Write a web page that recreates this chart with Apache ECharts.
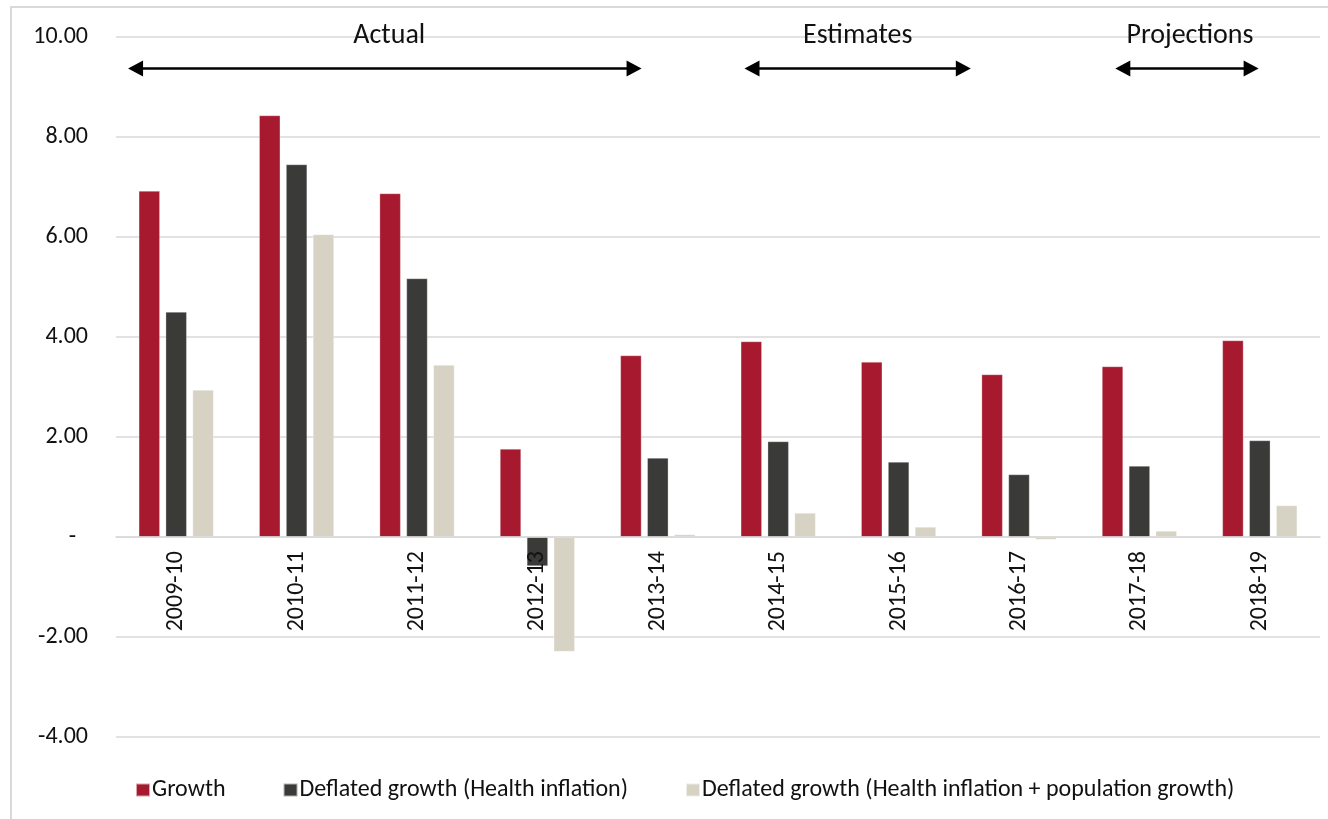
<!DOCTYPE html>
<html>
<head>
<meta charset="utf-8">
<script src="https://cdn.jsdelivr.net/npm/echarts@6/dist/echarts.min.js"></script>
<style>
html,body{margin:0;padding:0;background:#fff;}
#chart{width:1328px;height:819px;}
</style>
</head>
<body>
<div id="chart"></div>
<script>
const categories = ['2009-10','2010-11','2011-12','2012-13','2013-14','2014-15','2015-16','2016-17','2017-18','2018-19'];
const growth = [6.92, 8.43, 6.87, 1.76, 3.63, 3.91, 3.50, 3.25, 3.41, 3.93];
const deflatedHealth = [4.50, 7.45, 5.17, -0.58, 1.58, 1.91, 1.50, 1.25, 1.42, 1.93];
const deflatedHealthPop = [2.94, 6.05, 3.44, -2.29, 0.05, 0.48, 0.20, -0.05, 0.12, 0.63];
const seriesNames = ['Growth', 'Deflated growth (Health inflation)', 'Deflated growth (Health inflation + population growth)'];
const yMin = -4, yMax = 10, yStep = 2;
// period annotations, positions in category units (0 = left edge of first category)
const periodNames = ['Actual', 'Estimates', 'Projections'];
const periodStart = [0.10, 5.22, 8.30];
const periodEnd = [4.365, 7.10, 9.49];
const periodLabelX = [2.27, 6.16, 8.92];
const arrowY = 9.37;
const labelY = 10.03;

const FONT = 'Carlito, "Open Sans", sans-serif';
const colors = ['#A6192E', '#3A3B38', '#D6D3C4'];

const GRID_TOP = 37, GRID_BOTTOM = 82, H = 819;
const plotH = H - GRID_TOP - GRID_BOTTOM;
// shift the category axis up to the zero line
const zeroOffset = -plotH * (0 - yMin) / (yMax - yMin);

const chart = echarts.init(document.getElementById('chart'));

const barSeries = [growth, deflatedHealth, deflatedHealthPop].map((d, i) => ({
  name: seriesNames[i],
  type: 'bar',
  data: d,
  barWidth: 21,
  barGap: '28%',
  itemStyle: { color: colors[i], borderColor: 'rgba(255,255,255,0.6)', borderWidth: 0.5 }
}));

const option = {
  animation: false,
  backgroundColor: '#fff',
  textStyle: { fontFamily: FONT },
  grid: { left: 116, right: 8, top: GRID_TOP, bottom: GRID_BOTTOM, containLabel: false, outerBoundsMode: 'none' },
  legend: {
    left: 130,
    top: 773,
    itemWidth: 14,
    itemHeight: 13,
    itemGap: 57,
    icon: 'rect',
    textStyle: { fontSize: 24, color: '#111', fontFamily: FONT, padding: [0, 0, 0, -3] },
    data: seriesNames
  },
  xAxis: {
    type: 'category',
    data: categories,
    position: 'bottom',
    offset: zeroOffset,
    z: 5,
    axisLine: { onZero: false, lineStyle: { color: '#d9d9d9', width: 1.5 } },
    axisTick: { show: false },
    axisLabel: { rotate: 90, margin: 14, fontSize: 24, color: '#111', fontFamily: FONT, interval: 0 },
    splitLine: { show: false }
  },
  yAxis: {
    type: 'value',
    min: yMin,
    max: yMax,
    interval: yStep,
    axisLine: { show: false },
    axisTick: { show: false },
    splitLine: { lineStyle: { color: '#d9d9d9', width: 1.5 } },
    axisLabel: {
      margin: 28,
      fontSize: 24,
      color: '#111',
      fontFamily: FONT,
      formatter: v => (v === 0 ? '{z|-}' : v.toFixed(2)),
      rich: { z: { fontSize: 24, color: '#111', fontFamily: FONT, padding: [0, 12, 0, 0] } }
    }
  },
  series: barSeries
};
chart.setOption(option);

// annotations positioned through the chart's own scales
function xAt(u) {
  const c0 = chart.convertToPixel({ xAxisIndex: 0 }, 0);
  const c1 = chart.convertToPixel({ xAxisIndex: 0 }, 1);
  const w = c1 - c0;
  return c0 - w / 2 + u * w;
}
function yAt(v) { return chart.convertToPixel({ yAxisIndex: 0 }, v); }

const graphics = [{
  type: 'rect',
  shape: { x: 11, y: 7, width: 1340, height: 840 },
  style: { fill: null, stroke: '#d9d9d9', lineWidth: 2 },
  silent: true,
  z: -10
}];
const head = 15, half = 8;
periodNames.forEach((n, i) => {
  const x1 = xAt(periodStart[i]), x2 = xAt(periodEnd[i]), y = yAt(arrowY);
  graphics.push({
    type: 'line', silent: true, z: 50,
    shape: { x1: x1 + head - 2, y1: y, x2: x2 - head + 2, y2: y },
    style: { stroke: '#000', lineWidth: 2.5 }
  });
  graphics.push({
    type: 'polygon', silent: true, z: 50,
    shape: { points: [[x1, y], [x1 + head, y - half], [x1 + head, y + half]] },
    style: { fill: '#000' }
  });
  graphics.push({
    type: 'polygon', silent: true, z: 50,
    shape: { points: [[x2, y], [x2 - head, y - half], [x2 - head, y + half]] },
    style: { fill: '#000' }
  });
  graphics.push({
    type: 'text', silent: true, z: 50,
    x: xAt(periodLabelX[i]), y: yAt(labelY),
    style: { text: n, font: '28px ' + FONT, fill: '#111', align: 'center', verticalAlign: 'middle' }
  });
});
chart.setOption({ graphic: graphics });
</script>
</body>
</html>
